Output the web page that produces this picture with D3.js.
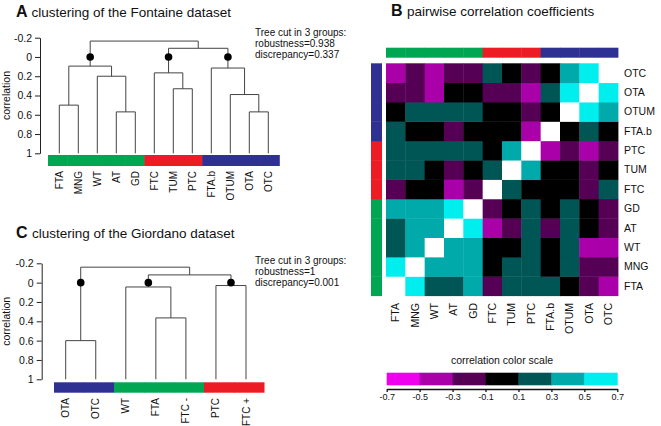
<!DOCTYPE html>
<html>
<head>
<meta charset="utf-8">
<script src="https://cdn.jsdelivr.net/npm/d3@7"></script>
<style>
  body { margin: 0; background: #fff; }
  svg { font-family: "Liberation Sans", Arial, sans-serif; }
</style>
</head>
<body>
<div id="viz"></div>
<script>
// ---- data ----
var fontaineLeaves = ["FTA", "MNG", "WT", "AT", "GD", "FTC", "TUM", "PTC", "FTA.b", "OTUM", "OTA", "OTC"];
var fontaineGroups = [1, 1, 1, 1, 1, 2, 2, 2, 3, 3, 3, 3];
// hclust style merges: negative = leaf (1-based), positive = earlier merge; [a, b, height]
var fontaineMerges = [
  [-1, -2, 0.5],
  [-4, -5, 0.57],
  [-3, 2, 0.2],
  [1, 3, 0.095],
  [-7, -8, 0.33],
  [-6, 5, 0.165],
  [-11, -12, 0.57],
  [-10, 7, 0.39],
  [-9, 8, 0.115],
  [6, 9, -0.09],
  [4, 10, -0.165]
];
var fontaineCutNodes = [4, 6, 9];
var fontaineStats = ["Tree cut in 3 groups:", "robustness=0.938", "discrepancy=0.337"];

var giordanoLeaves = ["OTA", "OTC", "WT", "FTA", "FTC -", "PTC", "FTC +"];
var giordanoGroups = [3, 3, 1, 1, 1, 2, 2];
var giordanoMerges = [
  [-1, -2, 0.6],
  [-4, -5, 0.365],
  [-3, 2, 0.045],
  [-6, -7, 0.03],
  [3, 4, -0.08],
  [1, 5, -0.16]
];
var giordanoCutNodes = [1, 3, 4];
var giordanoStats = ["Tree cut in 3 groups:", "robustness=1", "discrepancy=0.001"];

var corrTicks = [-0.2, 0, 0.2, 0.4, 0.6, 0.8, 1];

// pairwise correlations, rows/cols in fontaineLeaves order
var corrMatrix = [
  [1, .6, .2, .2, .4, -.2, .2, .2, .2, 0, -.2, -.4],
  [.6, 1, .4, .4, .4, 0, .2, .2, 0, .2, -.2, -.2],
  [.2, .4, 1, .4, .4, 0, 0, .2, 0, .2, -.4, -.4],
  [.2, .4, .4, 1, .6, -.4, -.2, .2, -.2, .2, 0, -.2],
  [.4, .4, .4, .6, 1, -.2, 0, .2, 0, .2, 0, -.2],
  [-.2, 0, 0, -.4, -.2, 1, .2, 0, 0, 0, -.2, .2],
  [.2, .2, 0, -.2, 0, .2, 1, .4, 0, 0, -.2, 0],
  [.2, .2, .2, .2, .2, 0, .4, 1, -.4, -.2, -.4, -.2],
  [.2, 0, 0, -.2, 0, 0, 0, -.4, 1, 0, .2, 0],
  [0, .2, .2, .2, .2, 0, 0, -.2, 0, 1, .6, .4],
  [-.2, -.2, -.4, 0, 0, -.2, -.2, -.4, .2, .6, 1, .6],
  [-.4, -.2, -.4, -.2, -.2, .2, 0, -.2, 0, .4, .6, 1]
];
var scaleBreaks = [-0.7, -0.5, -0.3, -0.1, 0.1, 0.3, 0.5, 0.7];

// ---- styles ----
var groupColor = { 1: "#00a651", 2: "#ed1c24", 3: "#2e3192" };
var binColors = ["#ee00ee", "#aa00aa", "#550055", "#000000", "#005555", "#00aaaa", "#00eeee"];
var color = d3.scaleThreshold()
  .domain([-0.5, -0.3, -0.1, 0.1, 0.3, 0.5, 0.95])
  .range(binColors.concat(["#ffffff"]));
var lineColor = "#444";

var svg = d3.select("#viz").append("svg")
  .attr("width", 661)
  .attr("height", 426);

function fmt(d) { return String(+d.toFixed(1)); }

function title(x, y, letter, text) {
  var t = svg.append("text").attr("x", x).attr("y", y).attr("fill", "#111");
  t.append("tspan").attr("font-weight", "bold").attr("font-size", "16px").text(letter + " ");
  t.append("tspan").attr("font-size", "13.5px").text(text);
}

function drawTree(o) {
  var g = svg.append("g");
  var y = d3.scaleLinear().domain([-0.2, 1]).range(o.yRange);
  var x = d3.scalePoint().domain(o.leaves).range(o.leafRange);
  var band = d3.scaleBand().domain(o.leaves).range(o.barRange);

  // y axis
  var ax = g.append("g")
    .attr("transform", "translate(" + o.axisX + ",0)")
    .call(d3.axisLeft(y).tickValues(corrTicks).tickFormat(fmt).tickSize(5).tickSizeOuter(0));
  ax.selectAll("path, line").attr("stroke", "#222");
  ax.selectAll("text").attr("font-size", "10.5px").attr("fill", "#111")
    .attr("font-family", "Liberation Sans, Arial, sans-serif");

  g.append("text")
    .attr("transform", "translate(" + o.labelX + "," + y(0.4) + ") rotate(-90)")
    .attr("text-anchor", "middle")
    .attr("font-size", "10.5px")
    .attr("fill", "#111")
    .text("correlation");

  // dendrogram links
  var nodes = [];
  function pos(c) {
    if (c < 0) return { x: x(o.leaves[-c - 1]), h: 1 };
    return nodes[c - 1];
  }
  var path = d3.path();
  o.merges.forEach(function (m) {
    var a = pos(m[0]), b = pos(m[1]), h = m[2];
    path.moveTo(a.x, y(a.h));
    path.lineTo(a.x, y(h));
    path.lineTo(b.x, y(h));
    path.lineTo(b.x, y(b.h));
    nodes.push({ x: (a.x + b.x) / 2, h: h });
  });
  g.append("path")
    .attr("d", path.toString())
    .attr("fill", "none")
    .attr("stroke", lineColor)
    .attr("stroke-width", 1);

  g.selectAll("circle.cut")
    .data(o.cuts)
    .join("circle")
    .attr("cx", function (d) { return nodes[d - 1].x; })
    .attr("cy", y(0))
    .attr("r", 3.8)
    .attr("fill", "#000");

  // group colour bar
  g.selectAll("rect.grp")
    .data(o.leaves)
    .join("rect")
    .attr("x", function (d) { return band(d); })
    .attr("y", o.barY)
    .attr("width", band.bandwidth() + 0.5)
    .attr("height", o.barH)
    .attr("fill", function (d, i) { return groupColor[o.groups[i]]; });

  g.selectAll("text.leaf")
    .data(o.leaves)
    .join("text")
    .attr("transform", function (d) {
      return "translate(" + x(d) + "," + o.labelY + ") rotate(-90)";
    })
    .attr("dy", "0.35em")
    .attr("text-anchor", "end")
    .attr("font-size", "10px")
    .attr("fill", "#111")
    .text(function (d) { return d; });

  g.selectAll("text.stat")
    .data(o.stats)
    .join("text")
    .attr("x", 255)
    .attr("y", function (d, i) { return o.statY + i * 11; })
    .attr("font-size", "10px")
    .attr("fill", "#111")
    .text(function (d) { return d; });
}

// ---- panel A ----
title(16, 17, "A", "clustering of the Fontaine dataset");
drawTree({
  leaves: fontaineLeaves, groups: fontaineGroups, merges: fontaineMerges,
  cuts: fontaineCutNodes, stats: fontaineStats,
  yRange: [37.7, 153.3], leafRange: [59.3, 268.3], barRange: [48, 279.3],
  axisX: 40, labelX: 10, barY: 155, barH: 11, labelY: 171, statY: 36
});

// ---- panel C ----
title(16, 238, "C", "clustering of the Giordano dataset");
drawTree({
  leaves: giordanoLeaves, groups: giordanoGroups, merges: giordanoMerges,
  cuts: giordanoCutNodes, stats: giordanoStats,
  yRange: [263.3, 379.3], leafRange: [65.7, 246], barRange: [54, 264],
  axisX: 41.7, labelX: 10, barY: 382.3, barH: 10.4, labelY: 398, statY: 264
});

// ---- panel B: heatmap ----
title(391, 16, "B", "pairwise correlation coefficients");
var hx = d3.scaleBand().domain(fontaineLeaves).range([386, 618]);
var hy = d3.scaleBand().domain(fontaineLeaves.slice().reverse()).range([63.3, 295.7]);

var cells = [];
corrMatrix.forEach(function (row, i) {
  row.forEach(function (v, j) {
    cells.push({ r: fontaineLeaves[i], c: fontaineLeaves[j], v: v });
  });
});
svg.append("g").selectAll("rect")
  .data(cells)
  .join("rect")
  .attr("x", function (d) { return hx(d.c); })
  .attr("y", function (d) { return hy(d.r); })
  .attr("width", hx.bandwidth() + 0.4)
  .attr("height", hy.bandwidth() + 0.4)
  .attr("fill", function (d) { return color(d.v); });

svg.append("g").selectAll("rect")
  .data(fontaineLeaves)
  .join("rect")
  .attr("x", function (d) { return hx(d); })
  .attr("y", 47.7)
  .attr("width", hx.bandwidth() + 0.4)
  .attr("height", 10)
  .attr("fill", function (d, i) { return groupColor[fontaineGroups[i]]; });

svg.append("g").selectAll("rect")
  .data(fontaineLeaves)
  .join("rect")
  .attr("x", 371)
  .attr("y", function (d) { return hy(d); })
  .attr("width", 11)
  .attr("height", hy.bandwidth() + 0.4)
  .attr("fill", function (d, i) { return groupColor[fontaineGroups[i]]; });

svg.append("g").selectAll("text")
  .data(fontaineLeaves)
  .join("text")
  .attr("x", 624)
  .attr("y", function (d) { return hy(d) + hy.bandwidth() / 2; })
  .attr("dy", "0.35em")
  .attr("font-size", "10.5px")
  .attr("fill", "#111")
  .text(function (d) { return d; });

svg.append("g").selectAll("text")
  .data(fontaineLeaves)
  .join("text")
  .attr("transform", function (d) {
    return "translate(" + (hx(d) + hx.bandwidth() / 2) + ",303) rotate(-90)";
  })
  .attr("dy", "0.35em")
  .attr("text-anchor", "end")
  .attr("font-size", "10.5px")
  .attr("fill", "#111")
  .text(function (d) { return d; });

// ---- colour scale ----
var sx = d3.scaleLinear().domain([-0.7, 0.7]).range([386.7, 617.3]);
svg.append("text")
  .attr("x", sx(0))
  .attr("y", 364)
  .attr("text-anchor", "middle")
  .attr("font-size", "10.5px")
  .attr("fill", "#111")
  .text("correlation color scale");

svg.append("g").selectAll("rect")
  .data(d3.pairs(scaleBreaks))
  .join("rect")
  .attr("x", function (d) { return sx(d[0]); })
  .attr("y", 372.7)
  .attr("width", function (d) { return sx(d[1]) - sx(d[0]) + 0.4; })
  .attr("height", 12.6)
  .attr("fill", function (d, i) { return binColors[i]; });

var sax = svg.append("g")
  .attr("transform", "translate(0,389)")
  .call(d3.axisBottom(sx).tickValues(scaleBreaks).tickFormat(fmt).tickSize(3).tickSizeOuter(0));
sax.selectAll("path, line").attr("stroke", "#111").attr("stroke-width", 1.3);
sax.selectAll("text").attr("font-size", "9px").attr("fill", "#111")
  .attr("font-family", "Liberation Sans, Arial, sans-serif").attr("y", 5);
</script>
</body>
</html>
